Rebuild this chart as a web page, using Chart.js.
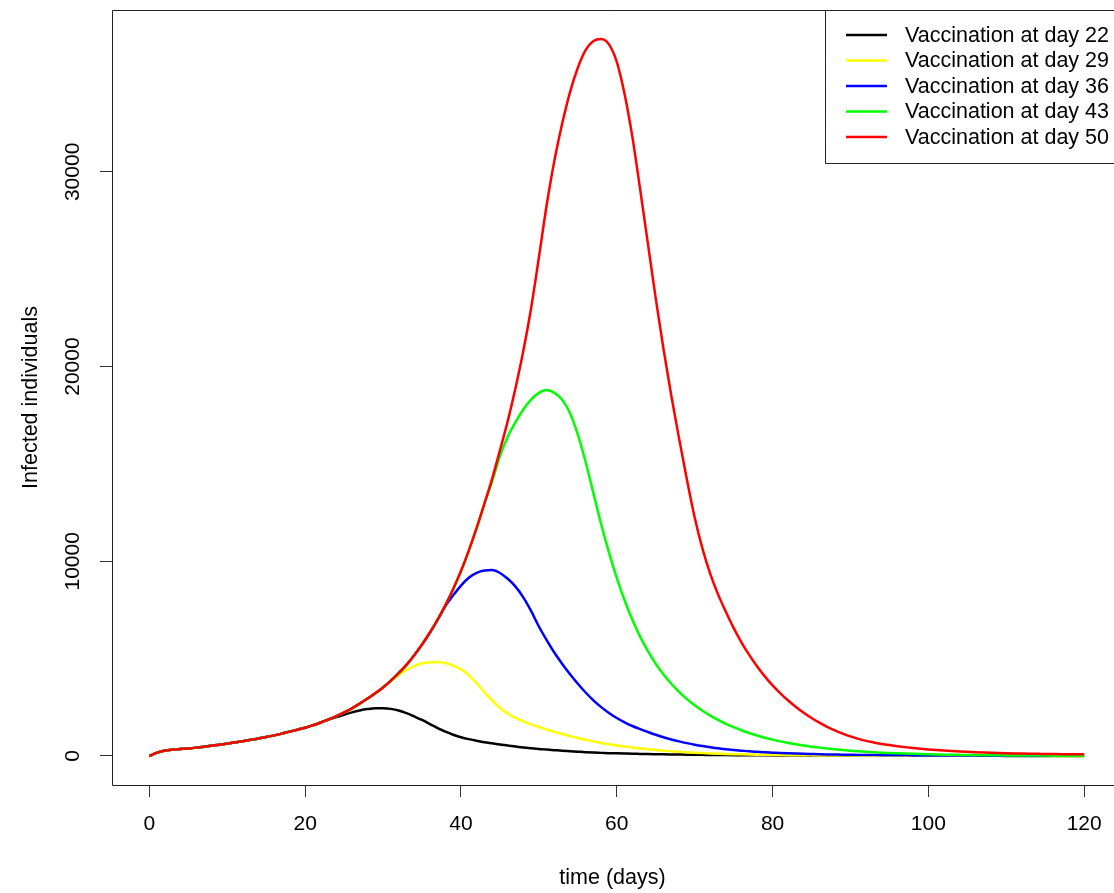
<!DOCTYPE html>
<html>
<head>
<meta charset="utf-8">
<script src="https://cdn.jsdelivr.net/npm/chart.js@4.4.1/dist/chart.umd.min.js"></script>
<style>
  body { margin: 0; background: #fff; }
  #wrap { width: 1114px; height: 893px; }
</style>
</head>
<body>
<div id="wrap"><canvas id="infected" width="1114" height="893"></canvas></div>
<script>
// time axis (days)
const days = [
  0,1,2,3,4,5,6,7,8,9,10,11,12,13,14,15,16,17,18,19,
  20,21,22,23,24,25,26,27,28,29,30,31,32,33,34,35,36,37,38,39,
  40,41,42,43,44,45,46,47,48,49,50,51,52,53,54,55,56,57,58,59,
  60,61,62,63,64,65,66,67,68,69,70,71,72,73,74,75,76,77,78,79,
  80,81,82,83,84,85,86,87,88,89,90,91,92,93,94,95,96,97,98,99,
  100,101,102,103,104,105,106,107,108,109,110,111,112,113,114,115,116,117,118,119,
  120
];

// infected individuals, one series per vaccination start
const day22 = [
  0,170,280,330,360,390,430,480,530,580,
  640,700,760,830,900,980,1060,1150,1250,1350,
  1450,1580,1720,1870,2000,2120,2240,2340,2410,2450,
  2450,2420,2340,2200,2030,1850,1640,1430,1250,1090,
  965,865,780,710,650,590,540,485,440,400,
  360,330,300,270,245,220,195,175,160,145,
  135,125,115,108,100,93,86,80,74,68,
  63,58,54,50,46,43,40,37,34,32,
  30,28,26,24,22,21,20,18,17,16,
  15,14,13,12,12,11,10,10,9,9,
  8,8,8,7,7,7,6,6,6,6,
  5,5,5,5,5,4,4,4,4,4,
  4
];
const day29 = [
  0,170,280,330,360,390,430,480,530,580,
  640,700,760,830,900,980,1060,1150,1250,1350,
  1450,1580,1720,1880,2050,2240,2450,2690,2950,3220,
  3500,3850,4150,4420,4620,4760,4810,4830,4770,4640,
  4450,4150,3740,3280,2850,2480,2180,1960,1780,1620,
  1490,1360,1240,1130,1020,920,830,750,670,600,
  540,485,435,390,350,310,275,245,215,190,
  168,150,133,118,105,94,84,75,67,60,
  54,48,43,39,35,32,29,26,24,22,
  20,18,17,16,15,14,13,12,11,10,
  10,9,9,8,8,8,7,7,7,7,
  6,6,6,6,6,5,5,5,5,5,
  5
];
const day36 = [
  0,170,280,330,360,390,430,480,530,580,
  640,700,760,830,900,980,1060,1150,1250,1350,
  1450,1580,1720,1880,2050,2240,2450,2690,2950,3220,
  3520,3870,4250,4680,5180,5730,6330,7000,7700,8250,
  8750,9150,9400,9530,9550,9400,9100,8700,8150,7450,
  6650,5950,5300,4730,4200,3710,3260,2860,2510,2210,
  1950,1730,1540,1380,1230,1090,960,850,750,660,
  580,510,450,395,350,310,275,240,215,190,
  170,150,135,122,110,100,90,82,75,68,
  62,56,51,47,43,40,37,34,31,29,
  27,25,23,22,21,20,19,18,17,16,
  15,14,13,12,11,11,10,10,9,9,
  8
];
const day43 = [
  0,170,280,330,360,390,430,480,530,580,
  640,700,760,830,900,980,1060,1150,1250,1350,
  1450,1580,1720,1880,2050,2240,2450,2690,2950,3220,
  3520,3870,4250,4680,5180,5730,6330,7000,7750,8580,
  9500,10550,11700,12950,14100,15400,16400,17150,17800,18300,
  18650,18800,18650,18300,17600,16500,15100,13500,11900,10450,
  9150,8000,7000,6130,5380,4740,4190,3710,3290,2920,
  2600,2320,2070,1850,1650,1480,1320,1180,1050,940,
  840,750,670,600,535,480,430,385,345,308,
  275,245,218,194,172,153,137,122,109,97,
  87,78,70,63,57,51,46,42,38,34,
  31,28,25,23,21,19,17,15,14,13,
  12
];
const day50 = [
  0,170,280,330,360,390,430,480,530,580,
  640,700,760,830,900,980,1060,1150,1250,1350,
  1450,1580,1720,1880,2050,2240,2450,2690,2950,3220,
  3520,3870,4250,4680,5180,5730,6330,7000,7750,8580,
  9500,10550,11700,12950,14250,15700,17200,18900,20800,23000,
  25600,28300,30600,32500,34100,35350,36250,36720,36830,36550,
  35650,34000,31800,29100,26300,23500,20900,18500,16300,14200,
  12250,10650,9350,8300,7410,6580,5840,5190,4610,4090,
  3630,3220,2850,2520,2220,1950,1710,1500,1315,1150,
  1005,880,775,690,620,560,505,455,410,370,
  335,305,278,254,232,212,195,180,166,154,
  143,133,124,116,109,103,98,94,91,89,
  88
];

const seriesNames = ["Vaccination at day 22", "Vaccination at day 29", "Vaccination at day 36",
                     "Vaccination at day 43", "Vaccination at day 50"];
const seriesColors = ["#000000", "#ffff00", "#0000ff", "#00ff00", "#ff0000"];
const seriesData = [day22, day29, day36, day43, day50];
const xTicks = [0, 20, 40, 60, 80, 100, 120];
const yTicks = [0, 10000, 20000, 30000];

const FONT = "'Liberation Sans', Arial, sans-serif";

// box round the plot region (its right side falls off the canvas) and an R style legend
const rBox = {
  id: 'rBox',
  afterDraw(chart) {
    const ctx = chart.ctx, a = chart.chartArea, W = chart.width;
    const L = Math.round(a.left) + 0.5, T = Math.round(a.top) + 0.5, B = Math.round(a.bottom) + 0.5;
    ctx.save();
    ctx.strokeStyle = '#222';
    ctx.lineWidth = 1;
    ctx.beginPath();
    ctx.moveTo(W, T); ctx.lineTo(L, T); ctx.lineTo(L, B); ctx.lineTo(W, B);
    ctx.stroke();

    const lx = 825.5, lb = 163.5;
    ctx.fillStyle = '#fff';
    ctx.fillRect(lx, T, W - lx, lb - T);
    ctx.beginPath();
    ctx.moveTo(W, T); ctx.lineTo(lx, T); ctx.lineTo(lx, lb); ctx.lineTo(W, lb);
    ctx.stroke();
    ctx.font = '21.5px ' + FONT;
    ctx.textBaseline = 'middle';
    ctx.textAlign = 'left';
    chart.data.datasets.forEach((ds, i) => {
      const y = 35 + i * 25.5;
      ctx.strokeStyle = ds.borderColor;
      ctx.lineWidth = 2.5;
      ctx.beginPath();
      ctx.moveTo(846, y);
      ctx.lineTo(887, y);
      ctx.stroke();
      ctx.fillStyle = '#000';
      ctx.fillText(ds.label, 905, y + 1);
    });
    ctx.restore();
  }
};

const ctx1 = document.getElementById('infected');
const infectedChart = new Chart(ctx1, {
  type: 'line',
  data: {
    labels: days,
    datasets: seriesData.map((d, i) => ({
      label: seriesNames[i],
      data: d,
      borderColor: seriesColors[i],
      backgroundColor: seriesColors[i],
      borderWidth: 2.5,
      pointRadius: 0,
      fill: false,
      cubicInterpolationMode: 'monotone',
      order: 5 - i
    }))
  },
  options: {
    responsive: false,
    animation: false,
    layout: { padding: { top: 10, right: 1, bottom: 0, left: 0 } },
    plugins: { legend: { display: false }, tooltip: { enabled: false } },
    scales: {
      x: {
        type: 'linear',
        min: -4.8,
        max: 123.7,
        afterBuildTicks: s => { s.ticks = xTicks.map(v => ({ value: v })); },
        afterFit: s => { s.height = 108; s.paddingLeft = 0; s.paddingRight = 0; },
        grid: { display: true, drawOnChartArea: false, drawTicks: true, tickLength: 12, color: '#333' },
        border: { display: false },
        ticks: { font: { size: 21, family: FONT }, color: '#000', padding: 15, maxRotation: 0, minRotation: 0 },
        title: { display: true, text: 'time (days)', font: { size: 21.5, family: FONT }, color: '#000',
                 padding: { top: 0, bottom: 2 } }
      },
      y: {
        type: 'linear',
        min: -1490,
        max: 38315,
        afterBuildTicks: s => { s.ticks = yTicks.map(v => ({ value: v })); },
        afterFit: s => { s.width = 112; s.paddingTop = 0; s.paddingBottom = 0; },
        grid: { display: true, drawOnChartArea: false, drawTicks: true, tickLength: 12, color: '#333' },
        border: { display: false },
        ticks: { font: { size: 21, family: FONT }, color: '#000', padding: -2,
                 minRotation: 90, maxRotation: 90, crossAlign: 'center',
                 callback: v => String(v) },
        title: { display: true, text: 'Infected individuals', font: { size: 21.5, family: FONT }, color: '#000',
                 padding: { top: 18, bottom: 0 } }
      }
    }
  },
  plugins: [rBox]
});
</script>
</body>
</html>
